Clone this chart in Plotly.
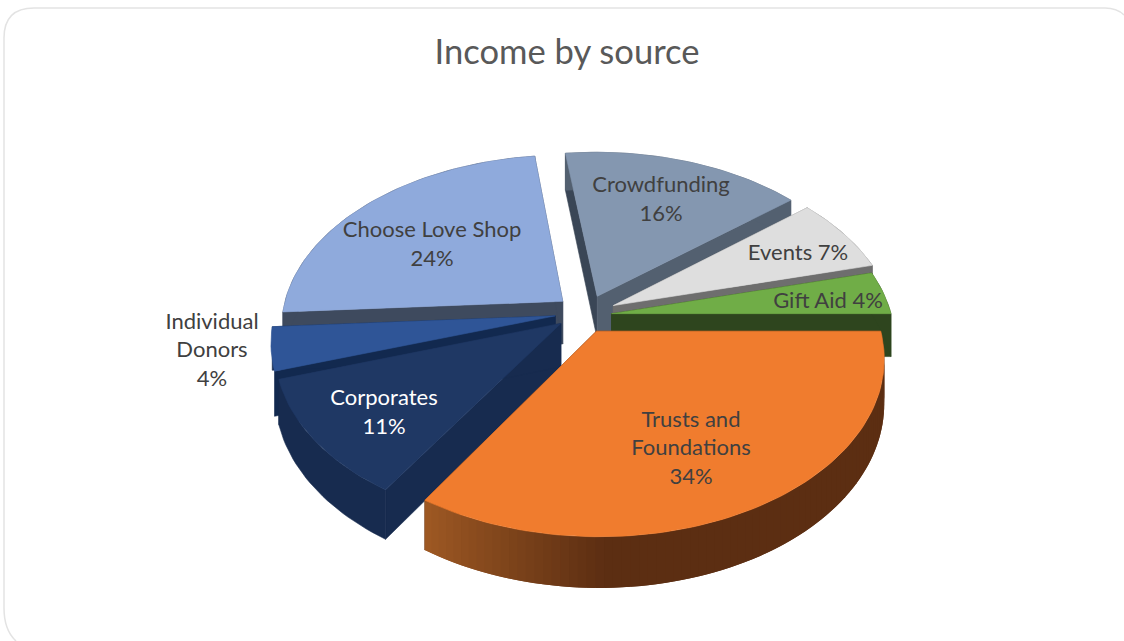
import math
import plotly.graph_objects as go

# ---- data ----
categories = ["Trusts and Foundations", "Corporates", "Individual Donors",
              "Choose Love Shop", "Crowdfunding", "Events", "Gift Aid"]
values = [34, 11, 4, 24, 16, 7, 4]
title_text = "Income by source"

# ---- styles ----
explode = [0.12, 0.09, 0.09, 0.09, 0.12, 0.11, 0.11]
nudge = [(0, 0), (1, 1), (0, 0), (2, -2), (5, 2), (6, 1), (1, 3)]
top_col = ["#F07C2E", "#1F3864", "#2F5597", "#8FAADC", "#8497B0", "#DEDEDE", "#70AD47"]
start_wall = ["#5C2E12", "#172B4F", "#12294F", "#3E4A5E", "#3A4656", "#6E6E6E", "#2E451E"]
end_wall = ["#5C2E12", "#172B4F", "#12294F", "#3E4A5E", "#536070", "#6E6E6E", "#2E451E"]
arc_col = ["gradient", "#172B4F", None, "#3E4A5E", "#536070", "#6E6E6E", "#2E451E"]
draw_order = [4, 5, 6, 3, 2, 1, 0]
label_text = ["Trusts and<br>Foundations<br>34%", "Corporates<br>11%", "Individual<br>Donors<br>4%",
              "Choose Love Shop<br>24%", "Crowdfunding<br>16%", "Events 7%", "Gift Aid 4%"]
label_xy = [(691, 450), (384, 414), (212, 352), (432, 246), (661, 201), (798, 254), (828, 302)]
label_col = ["#404040", "#FFFFFF", "#404040", "#404040", "#404040", "#404040", "#404040"]

CX, CY, RX, RY, KP, DEPTH = 580.0, 313.0, 280.0, 170.0, 0.145, 43.0
START = 90.0


def project(wx, wy, z=0.0, shift=(0, 0)):
    w = 1 + KP * wy
    return CX + shift[0] + RX * wx / w, CY + shift[1] - RY * wy / w + DEPTH * z / w


fig = go.Figure()


def poly(points, color, edge=0.6):
    xs = [p[0] for p in points] + [points[0][0]]
    ys = [p[1] for p in points] + [points[0][1]]
    fig.add_trace(go.Scatter(x=xs, y=ys, mode="lines", fill="toself", fillcolor=color,
                             line=dict(color=color, width=edge), hoverinfo="skip", showlegend=False))


def orange_side(frac):
    # frac runs from the right end of the arc (0) to its left end (1)
    t = min(1.0, max(0.0, (frac - 0.72) / 0.28))
    dark, light = (92, 46, 18), (160, 90, 36)
    return "rgb(%d,%d,%d)" % tuple(round(dark[i] + (light[i] - dark[i]) * t) for i in range(3))


total = sum(values)
angles = []
acc = START
for v in values:
    angles.append((acc, acc + v / total * 360))
    acc += v / total * 360

for idx in draw_order:
    a0, a1 = angles[idx]
    mid = math.radians((a0 + a1) / 2)
    ox, oy = explode[idx] * math.sin(mid), explode[idx] * math.cos(mid)
    n = max(6, int((a1 - a0) / 1.5))
    rim = []
    for j in range(n + 1):
        t = math.radians(a0 + (a1 - a0) * j / n)
        rim.append((ox + math.sin(t), oy + math.cos(t)))
    apex = (ox, oy)
    s = nudge[idx]
    up = lambda p: project(p[0], p[1], 0, s)
    dn = lambda p: project(p[0], p[1], 1, s)
    # radial walls
    poly([up(apex), up(rim[0]), dn(rim[0]), dn(apex)], start_wall[idx])
    poly([up(apex), up(rim[-1]), dn(rim[-1]), dn(apex)], end_wall[idx])
    # outer wall
    col = arc_col[idx]
    if col == "gradient":
        for j in range(n):
            k = min(n, j + 2)  # overlap the next band so no seam shows
            poly([up(rim[j]), up(rim[k]), dn(rim[k]), dn(rim[j])], orange_side(j / n), edge=0)
    elif col is not None:
        poly([up(p) for p in rim] + [dn(p) for p in reversed(rim)], col)
    # top
    poly([up(apex)] + [up(p) for p in rim], top_col[idx])

fig.add_trace(go.Scatter(
    x=[p[0] for p in label_xy], y=[p[1] for p in label_xy], mode="text", text=label_text,
    textposition="middle center", textfont=dict(family="Lato", size=22, color=label_col),
    hoverinfo="skip", showlegend=False))

fig.update_layout(
    width=1124, height=641, margin=dict(l=0, r=0, t=0, b=0),
    paper_bgcolor="white", plot_bgcolor="white", showlegend=False,
    title=dict(text=title_text, x=567 / 1124, xanchor="center", y=1 - 52 / 641, yanchor="middle",
               font=dict(family="Lato", size=34.6, color="#595959")),
    xaxis=dict(range=[0, 1124], visible=False, fixedrange=True),
    yaxis=dict(range=[641, 0], visible=False, fixedrange=True),
    shapes=[dict(type="path", xref="x", yref="y", layer="below",
                 path="M 16,641 Q 4,630 4,608 L 4,38 Q 4,8 34,8 L 1105,8 Q 1117,8 1124,15",
                 line=dict(color="#E3E3E3", width=1.5))],
)
fig.write_html("out.html", config={"displayModeBar": False},
               post_script="document.body.style.margin='0';document.body.style.overflow='hidden';")
